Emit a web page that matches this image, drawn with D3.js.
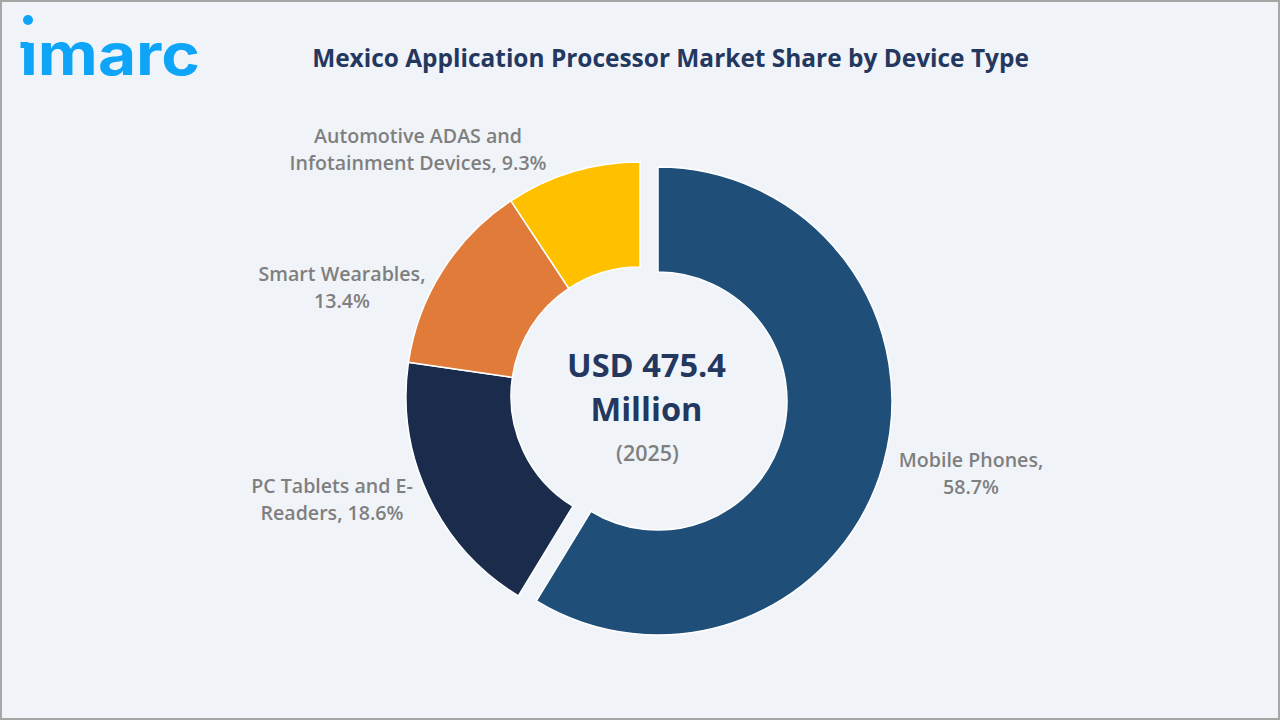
<!DOCTYPE html>
<html>
<head>
<meta charset="utf-8">
<script src="https://cdn.jsdelivr.net/npm/d3@7"></script>
<style>
    html, body { margin: 0; padding: 0; background: #f0f4f9; }
    svg { display: block; }
    text { font-family: "Open Sans", sans-serif; }
</style>
</head>
<body>
<script>
const categories = ['Mobile Phones', 'PC Tablets and E-Readers', 'Smart Wearables', 'Automotive ADAS and Infotainment Devices']
const shares = [58.7, 18.6, 13.4, 9.3]
const sliceColors = ['#1f4e79', '#1a2b4c', '#e07b39', '#ffc000']
const labelLines = [
    ['Mobile Phones,', '58.7%'],
    ['PC Tablets and E-', 'Readers, 18.6%'],
    ['Smart Wearables,', '13.4%'],
    ['Automotive ADAS and', 'Infotainment Devices, 9.3%']
]
const labelAnchors = [[971, 461], [332, 487], [342, 275], [418, 137]]
const centerLines = ['USD 475.4', 'Million']
const centerYear = '(2025)'
const title = 'Mexico Application Processor Market Share by Device Type'

const width = 1280
const height = 720
const cx = 640
const cy = 396
const outerR = 234
const innerR = 129
const explode = 18.7
const bg = '#f0f4f9'
const logoBlue = '#0ea5f8'

const svg = d3.select('body').append('svg')
    .attr('width', width)
    .attr('height', height)

svg.append('rect')
    .attr('x', 1)
    .attr('y', 1)
    .attr('width', width - 2)
    .attr('height', height - 2)
    .attr('fill', bg)
    .attr('stroke', '#a6a6a6')
    .attr('stroke-width', 2)

// logo: the i dot sits much higher in the real mark, so hide the font's one
const logo = svg.append('g')
logo.append('text')
    .attr('x', 20)
    .attr('y', 75)
    .attr('font-size', 58)
    .attr('font-weight', 700)
    .attr('fill', logoBlue)
    .attr('textLength', 180)
    .attr('lengthAdjust', 'spacingAndGlyphs')
    .style('font-family', 'Inter, sans-serif')
    .text('imarc')
logo.append('rect')
    .attr('x', 18)
    .attr('y', 24)
    .attr('width', 22)
    .attr('height', 17.5)
    .attr('fill', bg)
logo.append('circle')
    .attr('cx', 28)
    .attr('cy', 20)
    .attr('r', 5)
    .attr('fill', logoBlue)
logo.append('rect')
    .attr('x', 20.5)
    .attr('y', 42)
    .attr('width', 8)
    .attr('height', 6)
    .attr('fill', logoBlue)

svg.append('text')
    .attr('x', 670.5)
    .attr('y', 67)
    .attr('text-anchor', 'middle')
    .attr('font-size', 24.45)
    .attr('font-weight', 700)
    .attr('fill', '#24375f')
    .text(title)

const pie = d3.pie().sort(null).value(d => d)(shares)
const arc = d3.arc().innerRadius(innerR).outerRadius(outerR)

svg.append('g')
    .attr('transform', `translate(${cx},${cy})`)
    .selectAll('path')
    .data(pie)
    .join('path')
    .attr('d', arc)
    .attr('fill', (d, i) => sliceColors[i])
    .attr('stroke', '#ffffff')
    .attr('stroke-width', 1.5)
    .attr('data-name', (d, i) => categories[i])
    .attr('transform', (d, i) => {
        if (i != 0) return null
        const mid = (d.startAngle + d.endAngle) / 2
        return `translate(${Math.sin(mid) * explode},${-Math.cos(mid) * explode})`
    })

labelLines.forEach((lines, i) => {
    svg.append('text')
        .attr('text-anchor', 'middle')
        .attr('font-size', 19.6)
        .attr('font-weight', 600)
        .attr('fill', '#7f7f7f')
        .selectAll('tspan')
        .data(lines)
        .join('tspan')
        .attr('x', labelAnchors[i][0])
        .attr('y', (d, j) => labelAnchors[i][1] + 6 + j * 27)
        .text(d => d)
})

svg.append('g')
    .selectAll('text')
    .data(centerLines)
    .join('text')
    .attr('x', 646.5)
    .attr('y', (d, i) => 377 + i * 44)
    .attr('text-anchor', 'middle')
    .attr('font-size', 32.6)
    .attr('font-weight', 700)
    .attr('fill', '#24375f')
    .text(d => d)

svg.append('text')
    .attr('x', 647.5)
    .attr('y', 461)
    .attr('text-anchor', 'middle')
    .attr('font-size', 21.5)
    .attr('font-weight', 600)
    .attr('fill', '#7f7f7f')
    .text(centerYear)
</script>
</body>
</html>
